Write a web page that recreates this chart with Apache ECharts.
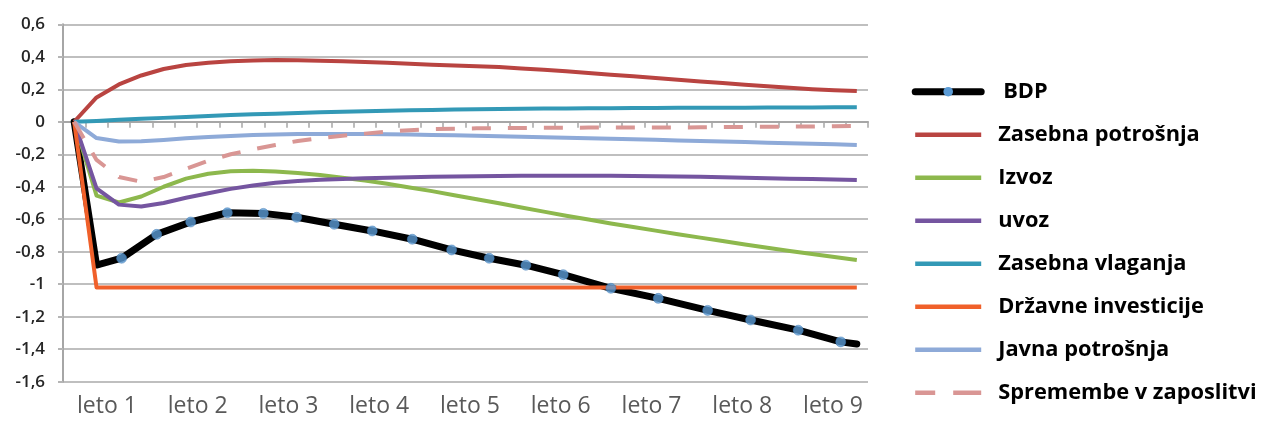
<!DOCTYPE html>
<html>
<head>
<meta charset="utf-8">
<script src="https://cdn.jsdelivr.net/npm/echarts@6/dist/echarts.min.js"></script>
<style>
  html, body { margin: 0; padding: 0; background: #fff; }
  #chart { width: 1261px; height: 421px; }
</style>
</head>
<body>
<div id="chart"></div>
<script>
// Year labels on the horizontal axis (4 quarters each)
const years = ['leto 1', 'leto 2', 'leto 3', 'leto 4', 'leto 5', 'leto 6', 'leto 7', 'leto 8', 'leto 9'];
const quarterCount = 36;

// Quarterly responses (deviation from baseline), quarter 0 .. 35
const zasebnaPotrosnja = [0, 0.15, 0.23, 0.285, 0.325, 0.35, 0.363, 0.372, 0.377, 0.38, 0.379, 0.376, 0.372, 0.368, 0.363, 0.357, 0.351, 0.346, 0.342, 0.337, 0.328, 0.32, 0.311, 0.3, 0.29, 0.28, 0.269, 0.259, 0.248, 0.238, 0.228, 0.218, 0.209, 0.2, 0.194, 0.189];
const izvoz = [0, -0.455, -0.497, -0.46, -0.4, -0.35, -0.32, -0.305, -0.302, -0.306, -0.316, -0.328, -0.345, -0.362, -0.382, -0.404, -0.427, -0.452, -0.477, -0.502, -0.528, -0.553, -0.578, -0.602, -0.626, -0.648, -0.67, -0.692, -0.713, -0.734, -0.755, -0.775, -0.795, -0.814, -0.833, -0.851];
const uvoz = [0, -0.41, -0.51, -0.522, -0.5, -0.468, -0.44, -0.413, -0.392, -0.376, -0.365, -0.357, -0.352, -0.348, -0.344, -0.341, -0.339, -0.337, -0.335, -0.334, -0.333, -0.332, -0.332, -0.332, -0.333, -0.334, -0.335, -0.337, -0.339, -0.341, -0.344, -0.347, -0.35, -0.353, -0.356, -0.359];
const zasebnaVlaganja = [0, 0.005, 0.012, 0.018, 0.024, 0.03, 0.036, 0.041, 0.046, 0.05, 0.054, 0.058, 0.062, 0.065, 0.068, 0.071, 0.073, 0.075, 0.077, 0.078, 0.08, 0.081, 0.082, 0.083, 0.084, 0.085, 0.085, 0.086, 0.086, 0.087, 0.087, 0.088, 0.088, 0.088, 0.089, 0.089];
const drzavneInvesticije = [0, -1.02, -1.02, -1.02, -1.02, -1.02, -1.02, -1.02, -1.02, -1.02, -1.02, -1.02, -1.02, -1.02, -1.02, -1.02, -1.02, -1.02, -1.02, -1.02, -1.02, -1.02, -1.02, -1.02, -1.02, -1.02, -1.02, -1.02, -1.02, -1.02, -1.02, -1.02, -1.02, -1.02, -1.02, -1.02];
const javnaPotrosnja = [0, -0.1, -0.122, -0.12, -0.112, -0.102, -0.094, -0.087, -0.082, -0.078, -0.076, -0.075, -0.075, -0.076, -0.077, -0.079, -0.081, -0.083, -0.086, -0.089, -0.092, -0.095, -0.098, -0.102, -0.105, -0.108, -0.111, -0.115, -0.118, -0.122, -0.125, -0.129, -0.132, -0.136, -0.139, -0.143];
const spremembeZaposlitve = [0, -0.235, -0.34, -0.369, -0.34, -0.29, -0.24, -0.2, -0.17, -0.143, -0.118, -0.1, -0.086, -0.073, -0.061, -0.052, -0.045, -0.043, -0.04, -0.039, -0.038, -0.037, -0.037, -0.036, -0.036, -0.035, -0.035, -0.035, -0.034, -0.033, -0.032, -0.031, -0.03, -0.029, -0.027, -0.026];

// GDP path: quarter positions and values (markers on all interior points)
const bdpQuarter = [0, 1, 2.12, 3.69, 5.21, 6.85, 8.46, 9.95, 11.63, 13.33, 15.12, 16.88, 18.56, 20.2, 21.87, 24.0, 26.12, 28.33, 30.25, 32.38, 34.28, 35];
const bdpValue = [0, -0.882, -0.84, -0.693, -0.617, -0.56, -0.564, -0.588, -0.631, -0.672, -0.723, -0.789, -0.84, -0.883, -0.941, -1.025, -1.087, -1.161, -1.22, -1.283, -1.355, -1.368];

const FONT = "'Open Sans', 'DejaVu Sans', sans-serif";
const plainIcon = 'path://M0,0H66V4.5H0Z';
const dashIcon = 'path://M0,0H20V4.5H0ZM38,0H66V4.5H38Z';

// x position of quarter q: centre of its slot on the 0..36 scale
const atQuarter = q => q + 0.5;

function lineSeries(name, values, color, width, dash) {
  return {
    type: 'line',
    name: name,
    xAxisIndex: 0,
    yAxisIndex: 0,
    data: values.map((v, i) => [atQuarter(i), v]),
    symbol: 'none',
    lineStyle: { color: color, width: width, type: dash || 'solid', cap: 'butt', join: 'round' },
    itemStyle: { color: color },
    z: 3
  };
}

const bdpPoints = bdpQuarter.map((q, k) => [atQuarter(q), bdpValue[k]]);

const series = [
  {
    type: 'line',
    name: 'BDP',
    data: bdpPoints,
    symbol: 'none',
    lineStyle: { color: '#000000', width: 7, join: 'round', cap: 'round' },
    itemStyle: { color: '#5b9bd5' },
    z: 2
  },
  lineSeries('Zasebna potrošnja', zasebnaPotrosnja, '#b94441', 4),
  lineSeries('Izvoz', izvoz, '#8db84d', 4),
  lineSeries('uvoz', uvoz, '#7555a0', 4),
  lineSeries('Zasebna vlaganja', zasebnaVlaganja, '#3399b6', 4),
  lineSeries('Državne investicije', drzavneInvesticije, '#f0602a', 4),
  lineSeries('Javna potrošnja', javnaPotrosnja, '#8eaad8', 4),
  lineSeries('Spremembe v zaposlitvi', spremembeZaposlitve, '#d99694', 4, [19, 17]),
  {
    type: 'scatter',
    name: 'BDP',
    data: bdpPoints.slice(2, bdpPoints.length - 1),
    symbol: 'circle',
    symbolSize: 10,
    itemStyle: { color: '#5b9bd5', borderColor: '#3f78b0', borderWidth: 0.6 },
    z: 4
  }
];

function formatTick(v) {
  const r = Math.round(v * 10) / 10 + 0;
  return String(r).replace('.', ',');
}

const chart = echarts.init(document.getElementById('chart'), null, { renderer: 'canvas' });
chart.setOption({
  animation: false,
  backgroundColor: '#ffffff',
  grid: [
    { left: 63, right: 393, top: 24.3, bottom: 39.3, outerBoundsMode: 'none' },
    { left: 61.6, right: 382.6, top: 24.3, bottom: 39.3, outerBoundsMode: 'none' }
  ],
  xAxis: [
    {
      type: 'value', gridIndex: 0, min: 0, max: quarterCount, interval: 1,
      axisLine: { show: true, onZero: true, lineStyle: { color: '#a6a6a6', width: 2 } },
      axisTick: { show: true, length: 6, lineStyle: { color: '#a6a6a6', width: 1.5 } },
      axisLabel: { show: false },
      splitLine: { show: false }
    },
    {
      type: 'category', gridIndex: 1, data: years, boundaryGap: true,
      axisLine: { show: false, onZero: false },
      axisTick: { show: false },
      axisLabel: { color: '#595959', fontFamily: FONT, fontSize: 23, margin: 13 },
      splitLine: { show: false }
    }
  ],
  yAxis: [
    {
      type: 'value', gridIndex: 0, min: -1.6, max: 0.6, interval: 0.2,
      axisLine: { show: true, lineStyle: { color: '#a6a6a6', width: 2 } },
      axisTick: { show: true, length: 5, lineStyle: { color: '#b5b5b5', width: 2 } },
      axisLabel: { color: '#262626', fontFamily: FONT, fontSize: 17, fontWeight: 600, margin: 18, formatter: formatTick },
      splitLine: { show: true, lineStyle: { color: '#bfbfbf', width: 2 } }
    },
    { type: 'value', gridIndex: 1, min: -1.6, max: 0.6, show: false }
  ],
  legend: {
    orient: 'vertical',
    left: 911.7,
    top: 79.7,
    padding: 0,
    itemWidth: 66,
    itemHeight: 12,
    itemGap: 19,
    selectedMode: false,
    textStyle: { fontFamily: FONT, fontWeight: 'bold', fontSize: 21.8, color: '#000', lineHeight: 24, padding: [0, 0, 0, 12] },
    data: [
      { name: 'BDP', lineStyle: { width: 7, color: '#000' }, itemStyle: { color: '#5b9bd5' }, textStyle: { padding: [0, 0, 0, 17] } },
      { name: 'Zasebna potrošnja', icon: plainIcon, itemStyle: { color: '#b94441' } },
      { name: 'Izvoz', icon: plainIcon, itemStyle: { color: '#8db84d' } },
      { name: 'uvoz', icon: plainIcon, itemStyle: { color: '#7555a0' } },
      { name: 'Zasebna vlaganja', icon: plainIcon, itemStyle: { color: '#3399b6' } },
      { name: 'Državne investicije', icon: plainIcon, itemStyle: { color: '#f0602a' } },
      { name: 'Javna potrošnja', icon: plainIcon, itemStyle: { color: '#8eaad8' } },
      { name: 'Spremembe v zaposlitvi', icon: dashIcon, itemStyle: { color: '#d99694' } }
    ]
  },
  series: series
});
</script>
</body>
</html>
